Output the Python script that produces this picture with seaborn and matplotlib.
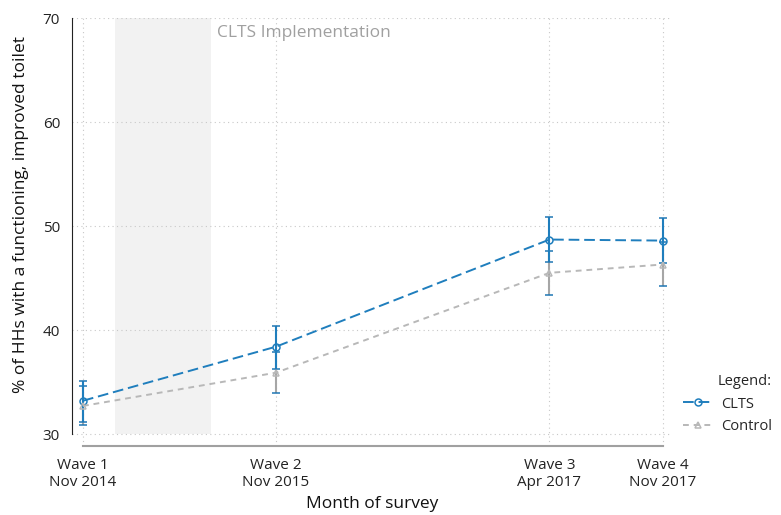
import pandas as pd
import seaborn as sns
import matplotlib.pyplot as plt
import matplotlib.dates as mdates

# survey waves
wave_dates = pd.to_datetime(['2014-11-01', '2015-11-01', '2017-04-01', '2017-11-01'])
wave_labels = ['Wave 1\nNov 2014', 'Wave 2\nNov 2015', 'Wave 3\nApr 2017', 'Wave 4\nNov 2017']

# % of households with functioning improved toilet
clts_mean = [33.2, 38.4, 48.7, 48.6]
clts_lo = [31.2, 36.3, 46.5, 46.4]
clts_hi = [35.1, 40.4, 50.9, 50.8]

ctrl_mean = [32.7, 35.9, 45.5, 46.3]
ctrl_lo = [30.9, 33.9, 43.4, 44.2]
ctrl_hi = [34.6, 37.9, 47.6, 48.5]

impl_start = pd.Timestamp('2015-01-01')
impl_end = pd.Timestamp('2015-07-01')

BLUE = '#1f7ebd'
GREY = '#b8b8b8'
GREY_ERR = '#a6a6a6'

df = pd.DataFrame({
    'date': list(wave_dates) * 2,
    'pct': clts_mean + ctrl_mean,
    'group': ['CLTS'] * 4 + ['Control'] * 4,
})

sns.set_style('white')
plt.rcParams['font.family'] = ['Open Sans', 'DejaVu Sans']

fig = plt.figure(figsize=(7.81, 5.15), dpi=100)
ax = fig.add_axes([0.092, 0.134, 0.768, 0.831])

ax.axvspan(impl_start, impl_end, ymin=(30 - 28.85) / (70 - 28.85), ymax=1,
           color='#f2f2f2', lw=0, zorder=0)
ax.text(impl_end + pd.Timedelta(days=12), 68.6, 'CLTS Implementation',
        color='#a0a0a0', fontsize=12.5, ha='left', va='center')

ax.errorbar(wave_dates, ctrl_mean,
            yerr=[[m - l for m, l in zip(ctrl_mean, ctrl_lo)],
                  [h - m for m, h in zip(ctrl_mean, ctrl_hi)]],
            fmt='none', ecolor=GREY_ERR, elinewidth=1.5, capsize=3, capthick=1.3, zorder=2)
ax.errorbar(wave_dates, clts_mean,
            yerr=[[m - l for m, l in zip(clts_mean, clts_lo)],
                  [h - m for m, h in zip(clts_mean, clts_hi)]],
            fmt='none', ecolor=BLUE, elinewidth=1.5, capsize=3, capthick=1.3, zorder=2)

sns.lineplot(data=df, x='date', y='pct', hue='group', style='group',
             palette={'CLTS': BLUE, 'Control': GREY},
             markers={'CLTS': 'o', 'Control': '^'},
             dashes={'CLTS': (5.5, 2.5), 'Control': (3, 2.5)},
             markersize=5, linewidth=1.4, ax=ax, zorder=3)

ax.set_xlim(pd.Timestamp('2014-10-11'), pd.Timestamp('2017-11-18'))
ax.set_ylim(28.85, 70)
ax.set_xticks(wave_dates)
ax.set_xticklabels(wave_labels)
ax.set_yticks([30, 40, 50, 60, 70])

ax.grid(True, linestyle=(0, (1, 3)), color='#c8c8c8', linewidth=0.8)
ax.set_axisbelow(True)

for s in ['top', 'right']:
    ax.spines[s].set_visible(False)
ax.spines['left'].set_bounds(30, 70)
ax.spines['left'].set_color('#222222')
ax.spines['bottom'].set_bounds(mdates.date2num(wave_dates[0]), mdates.date2num(wave_dates[-1]))
ax.spines['bottom'].set_color('#a0a0a0')
ax.spines['bottom'].set_linewidth(1.5)
ax.tick_params(axis='both', length=5, color='#a0a0a0', labelsize=11, labelcolor='#222222')

ax.set_xlabel('Month of survey', fontsize=12.5, color='#111111')
ax.set_ylabel('% of HHs with a functioning, improved toilet', fontsize=12.5, color='#111111')
ax.yaxis.set_label_coords(-0.072, 0.54)

handles, labels = ax.get_legend_handles_labels()
leg = ax.legend(handles, labels, title='Legend:', loc='center left',
                bbox_to_anchor=(1.0, 0.098), frameon=False, fontsize=10.5,
                title_fontsize=10.5, handlelength=2.0, handletextpad=0.6,
                borderaxespad=0.6, borderpad=0.2)
leg._legend_box.align = 'right'

# hollow markers, edge in the series colour
for line in list(ax.lines) + list(leg.get_lines()):
    line.set_markeredgecolor(line.get_color())
    line.set_markerfacecolor('none')
    line.set_markeredgewidth(1.1)

fig.savefig('out.png', dpi=100)
